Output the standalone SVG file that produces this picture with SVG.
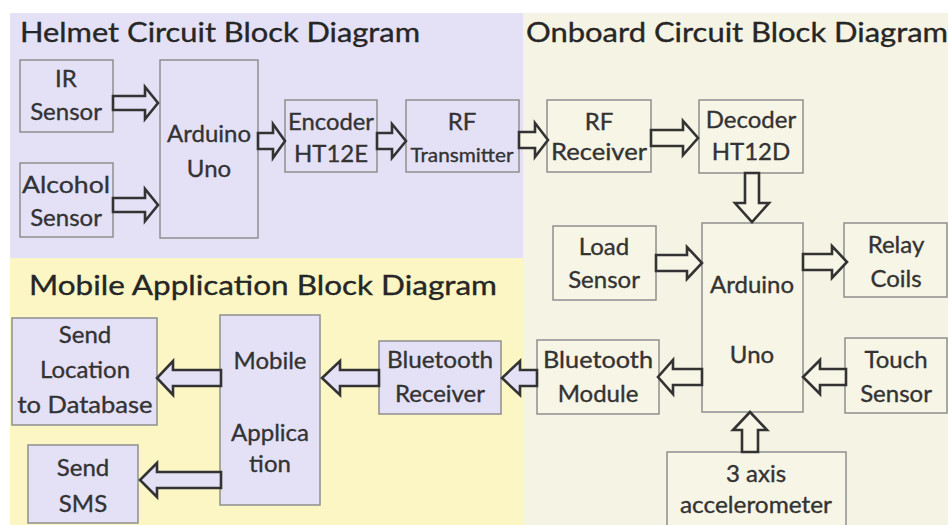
<svg xmlns="http://www.w3.org/2000/svg" width="948" height="525" viewBox="0 0 948 525">
<style>
.t{font-family:Lato,"Open Sans",sans-serif;font-size:24px;fill:#333333;stroke:#333333;stroke-width:0.35;text-anchor:middle}
.h{font-family:Lato,"Open Sans",sans-serif;font-size:27px;fill:#262626;stroke:#262626;stroke-width:0.35}
.n{stroke:#8e8e8e;stroke-width:1.5}
.lav{fill:#e4e1f6}
.crm{fill:#f7f5e6}
.a{stroke:#333;stroke-width:2.6;stroke-linejoin:miter}
</style>
<rect x="0" y="0" width="948" height="525" fill="#ffffff"/>
<rect x="10" y="13" width="513" height="245" fill="#e4e1f6"/>
<rect x="523" y="13" width="425" height="512" fill="#f5f3e3"/>
<rect x="10" y="258" width="513" height="267" fill="#fbf6c4"/>
<text class="h" x="20" y="42" textLength="400" lengthAdjust="spacingAndGlyphs">Helmet Circuit Block Diagram</text>
<text class="h" x="526" y="42" textLength="422" lengthAdjust="spacingAndGlyphs">Onboard Circuit Block Diagram</text>
<text class="h" x="29" y="295" textLength="468" lengthAdjust="spacingAndGlyphs">Mobile Application Block Diagram</text>

<g id="ir"><rect class="n lav" x="20" y="60" width="93" height="72"/><text class="t" x="66" y="87">IR</text><text class="t" x="66" y="120">Sensor</text></g>
<g id="alcohol"><rect class="n lav" x="20" y="163" width="93" height="74"/><text class="t" x="66" y="193" textLength="88" lengthAdjust="spacingAndGlyphs">Alcohol</text><text class="t" x="66" y="226">Sensor</text></g>
<g id="arduino1"><rect class="n lav" x="160" y="60" width="98" height="178"/><text class="t" x="209" y="142">Arduino</text><text class="t" x="209" y="177">Uno</text></g>
<g id="encoder"><rect class="n lav" x="285" y="100" width="92" height="72"/><text class="t" x="331" y="130" textLength="86" lengthAdjust="spacingAndGlyphs">Encoder</text><text class="t" x="331" y="162">HT12E</text></g>
<g id="rftx"><rect class="n lav" x="406" y="100" width="113" height="72"/><text class="t" x="462" y="130">RF</text><text class="t" x="462" y="162" style="font-size:20px" textLength="103" lengthAdjust="spacingAndGlyphs">Transmitter</text></g>
<g id="rfrx"><rect class="n crm" x="547" y="100" width="104" height="72"/><text class="t" x="599" y="130">RF</text><text class="t" x="599" y="160" textLength="96" lengthAdjust="spacingAndGlyphs">Receiver</text></g>
<g id="decoder"><rect class="n crm" x="699" y="100" width="104" height="73"/><text class="t" x="751" y="128">Decoder</text><text class="t" x="751" y="160">HT12D</text></g>
<g id="arduino2"><rect class="n crm" x="702" y="223" width="101" height="189"/><text class="t" x="752" y="293">Arduino</text><text class="t" x="752" y="363">Uno</text></g>
<g id="load"><rect class="n crm" x="553" y="226" width="103" height="74"/><text class="t" x="604" y="255">Load</text><text class="t" x="604" y="288">Sensor</text></g>
<g id="relay"><rect class="n crm" x="844" y="223" width="103" height="74"/><text class="t" x="896" y="253">Relay</text><text class="t" x="896" y="287">Coils</text></g>
<g id="touch"><rect class="n crm" x="845" y="338" width="102" height="75"/><text class="t" x="896" y="368">Touch</text><text class="t" x="896" y="402">Sensor</text></g>
<g id="btmodule"><rect class="n crm" x="537" y="340" width="122" height="74"/><text class="t" x="598" y="368" textLength="110" lengthAdjust="spacingAndGlyphs">Bluetooth</text><text class="t" x="598" y="402">Module</text></g>
<g id="accel"><rect class="n crm" x="667" y="452" width="179" height="80"/><text class="t" x="756" y="482">3 axis</text><text class="t" x="756" y="513" textLength="152" lengthAdjust="spacingAndGlyphs">accelerometer</text></g>
<g id="sendloc"><rect class="n lav" x="12" y="318" width="145" height="107"/><text class="t" x="85" y="343">Send</text><text class="t" x="85" y="378">Location</text><text class="t" x="85" y="413" textLength="135" lengthAdjust="spacingAndGlyphs">to Database</text></g>
<g id="sendsms"><rect class="n lav" x="28" y="445" width="110" height="78"/><text class="t" x="83" y="476">Send</text><text class="t" x="83" y="512">SMS</text></g>
<g id="mobileapp"><rect class="n lav" x="220" y="315" width="100" height="190"/><text class="t" x="270" y="369">Mobile</text><text class="t" x="270" y="441">Applica</text><text class="t" x="270" y="472">tion</text></g>
<g id="btrx"><rect class="n lav" x="379" y="341" width="122" height="73"/><text class="t" x="440" y="368" textLength="106" lengthAdjust="spacingAndGlyphs">Bluetooth</text><text class="t" x="440" y="402">Receiver</text></g>

<g id="connectors">
<polygon class="a lav" points="113,96 145,96 145,87 158,103 145,119 145,110 113,110"/>
<polygon class="a lav" points="113,198 145,198 145,189 158,205 145,221 145,212 113,212"/>
<polygon class="a lav" points="258,133 273,133 273,124 285,141 273,158 273,149 258,149"/>
<polygon class="a lav" points="377,133 392,133 392,124 406,141 392,158 392,149 377,149"/>
<polygon class="a crm" points="519,132 535,132 535,123 548,140 535,157 535,148 519,148"/>
<polygon class="a crm" points="651,130 683,130 683,121 698,138 683,155 683,146 651,146"/>
<polygon class="a crm" points="745,173 759,173 759,203 769,203 752,222 735,203 745,203"/>
<polygon class="a crm" points="656,255 687,255 687,247 702,263 687,279 687,271 656,271"/>
<polygon class="a crm" points="803,254 832,254 832,246 847,262 832,278 832,270 803,270"/>
<polygon class="a crm" points="846,369 820,369 820,360 803,377 820,394 820,385 846,385"/>
<polygon class="a crm" points="702,369 673,369 673,360 658,377 673,394 673,385 702,385"/>
<polygon class="a crm" points="742,452 758,452 758,430 767,430 750,412 733,430 742,430"/>
<polygon class="a lav" points="537,370 520,370 520,361 502,378 520,395 520,386 537,386"/>
<polygon class="a lav" points="379,370 340,370 340,361 322,378 340,395 340,386 379,386"/>
<polygon class="a lav" points="221,370 173,370 173,361 157,378 173,395 173,386 221,386"/>
<polygon class="a lav" points="221,472 157,472 157,463 140,480 157,497 157,488 221,488"/>
</g>
</svg>
